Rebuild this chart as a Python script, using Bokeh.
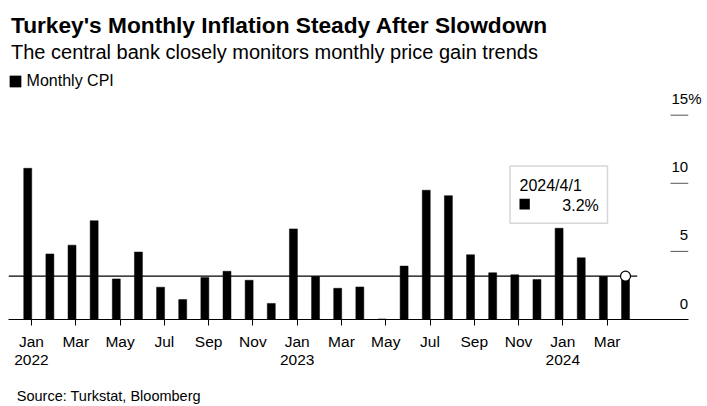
from bokeh.plotting import figure
from bokeh.models import (ColumnDataSource, Range1d, LinearAxis, FixedTicker, Label,
                          BoxAnnotation, Legend, LegendItem)
from bokeh.layouts import column
from bokeh.transform import dodge
from bokeh.embed import file_html
from bokeh.resources import INLINE

# ---------------- data ----------------
months = ["2022-01", "2022-02", "2022-03", "2022-04", "2022-05", "2022-06",
          "2022-07", "2022-08", "2022-09", "2022-10", "2022-11", "2022-12",
          "2023-01", "2023-02", "2023-03", "2023-04", "2023-05", "2023-06",
          "2023-07", "2023-08", "2023-09", "2023-10", "2023-11", "2023-12",
          "2024-01", "2024-02", "2024-03", "2024-04"]
cpi = [11.10, 4.81, 5.46, 7.25, 2.98, 4.95, 2.37, 1.46, 3.08, 3.54, 2.88, 1.18,
       6.65, 3.15, 2.29, 2.39, 0.04, 3.92, 9.49, 9.09, 4.75, 3.43, 3.28, 2.93,
       6.70, 4.53, 3.16, 3.18]
x_tick_idx = [0, 2, 4, 6, 8, 10, 12, 14, 16, 18, 20, 22, 24, 26]
x_tick_labels = ["Jan\n2022", "Mar", "May", "Jul", "Sep", "Nov",
                 "Jan\n2023", "Mar", "May", "Jul", "Sep", "Nov",
                 "Jan\n2024", "Mar"]
y_ticks = [0, 5, 10, 15]
y_tick_labels = ["0", "5", "10", "15%"]

FONT = "Liberation Sans"
FIG_SP = "\u2007"   # figure space: keeps the numbers right-aligned

idx = list(range(len(months)))
src = ColumnDataSource(dict(idx=idx, cpi=cpi, month=months))
last_src = ColumnDataSource(dict(idx=[idx[-1]], cpi=[cpi[-1]]))

W = 707
x_start, x_end = -1.039, 29.675
y_start, y_end = 0, 23.42
lab_shift = 1.21          # tick labels sit above their tick marks

p = figure(width=W, height=379, output_backend="svg", toolbar_location=None,
           x_range=Range1d(x_start, x_end), y_range=Range1d(y_start, y_end),
           min_border_left=8, min_border_right=19, min_border_top=0,
           min_border_bottom=60, y_axis_location=None)
p.grid.visible = False
p.outline_line_color = None
p.background_fill_color = "white"
p.border_fill_color = "white"
p.extra_y_ranges = {"lab": Range1d(y_start - lab_shift, y_end - lab_shift)}

# x axis
xa = p.xaxis[0]
xa.ticker = FixedTicker(ticks=x_tick_idx)
xa.major_label_overrides = {k: v for k, v in zip(x_tick_idx, x_tick_labels)}
xa.axis_line_color = "#000000"
xa.axis_line_width = 1
xa.major_tick_line_color = "#000000"
xa.major_tick_out = 6
xa.major_tick_in = 0
xa.minor_tick_line_color = None
xa.major_label_standoff = 7
xa.major_label_text_font = FONT
xa.major_label_text_font_size = "15.5px"
xa.major_label_text_line_height = 1.07
xa.major_label_text_color = "#000000"

# right axis: labels only (placed above the short tick marks)
ylab_over = {}
for t, s in zip(y_ticks, y_tick_labels):
    ylab_over[t] = s if len(s) > 1 else FIG_SP + s
ya = LinearAxis(y_range_name="lab", ticker=FixedTicker(ticks=y_ticks),
                major_tick_in=0, major_tick_out=0, axis_line_color=None,
                major_tick_line_color=None, minor_tick_line_color=None,
                major_label_standoff=-17, major_label_overrides=ylab_over,
                major_label_text_font=FONT, major_label_text_font_size="15px",
                major_label_text_color="#000000")
p.add_layout(ya, "right")

# short tick marks at the right edge
tick_src = ColumnDataSource(dict(y=y_ticks[1:]))
p.segment(x0=x_end - 18 / 22.14, x1=x_end, y0="y", y1="y", source=tick_src,
          line_color="#555555", line_width=1)

# bars
bars = p.vbar(x=dodge("idx", -0.17, range=p.x_range), top="cpi", width=0.36,
              source=src, fill_color="#000000", line_color="#000000", line_width=0.5)

# reference line at latest value
p.segment(x0=[x_start], y0=[cpi[-1]], x1=[idx[-1] + 0.36], y1=[cpi[-1]],
          line_color="#000000", line_width=1.2)
p.scatter(x=dodge("idx", -0.17, range=p.x_range), y="cpi", source=last_src, size=10,
          fill_color="white", line_color="#000000", line_width=1.2)

# legend
legend = Legend(items=[LegendItem(label="Monthly CPI", renderers=[bars])],
                location=(-0.4, 229), orientation="horizontal", glyph_width=14,
                glyph_height=14, label_standoff=5, padding=0, margin=0, spacing=0,
                border_line_color=None, background_fill_alpha=0,
                label_text_font=FONT, label_text_font_size="16px",
                label_text_color="#000000")
p.add_layout(legend, "center")


def lab(fig, text, x, y, size, style="normal", align="left", color="#000000"):
    fig.add_layout(Label(text=text, x=x, y=y, x_units="screen", y_units="screen",
                         text_font=FONT, text_font_size=size, text_font_style=style,
                         text_align=align, text_baseline="alphabetic",
                         text_color=color))


# titles (screen units relative to the frame)
lab(p, "Turkey's Monthly Inflation Steady After Slowdown", 2.5, 295, "22.7px", "bold")
lab(p, "The central bank closely monitors monthly price gain trends", 2.5, 268, "20px")

# tooltip box for latest point
p.add_layout(BoxAnnotation(left=501.5, right=599, bottom=96.3, top=153.5,
                           left_units="screen", right_units="screen",
                           bottom_units="screen", top_units="screen",
                           fill_color="white", fill_alpha=1.0,
                           line_color="#777777", line_width=1.5))
yy, mm = months[-1].split("-")
lab(p, f"{yy}/{int(mm)}/1", 511, 134.2, "16px")
p.add_layout(BoxAnnotation(left=511, right=521.3, bottom=110, top=120.7,
                           left_units="screen", right_units="screen",
                           bottom_units="screen", top_units="screen",
                           fill_color="#000000", fill_alpha=1.0, line_color=None))
lab(p, f"{cpi[-1]:.1f}%", 590.3, 114.2, "16px", align="right")

# footer with source
f = figure(width=W, height=27, output_backend="svg", toolbar_location=None,
           x_range=Range1d(0, 1), y_range=Range1d(0, 1),
           min_border_left=0, min_border_right=0, min_border_top=0,
           min_border_bottom=0, x_axis_location=None, y_axis_location=None)
f.grid.visible = False
f.outline_line_color = None
f.background_fill_color = "white"
f.border_fill_color = "white"
lab(f, "Source: Turkstat, Bloomberg", 8.3, 11, "14.5px")

layout = column(p, f, spacing=0)
open("out.html", "w").write(file_html(layout, INLINE))
